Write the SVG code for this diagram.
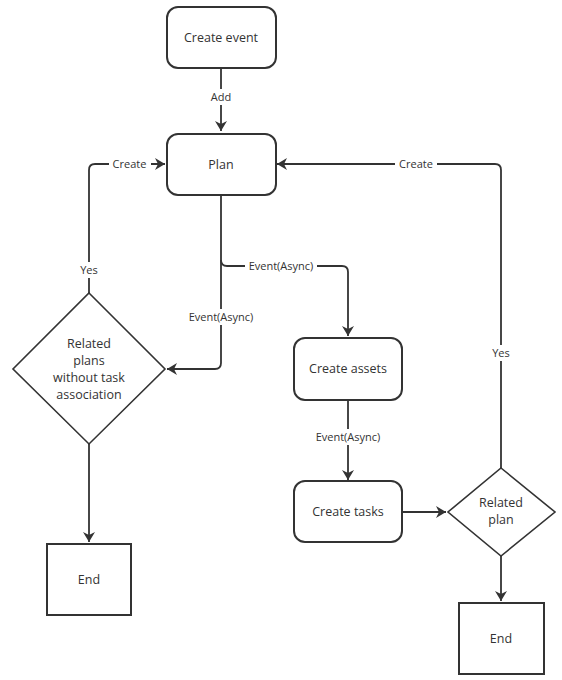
<svg xmlns="http://www.w3.org/2000/svg" width="562" height="680" viewBox="0 0 562 680">
<defs>
<marker id="arr" markerWidth="12" markerHeight="12" refX="10" refY="6" orient="auto" markerUnits="userSpaceOnUse">
<path d="M0,0 L10,6 L0,12 L3,6 Z" fill="#333"/>
</marker>
</defs>
<style>
.box{fill:#fff;stroke:#333;stroke-width:2}
.dia{fill:#fff;stroke:#333;stroke-width:1.6}
.t{font-family:"Open Sans","Liberation Sans",sans-serif;font-size:12.5px;fill:#333;text-anchor:middle}
.l{font-family:"Open Sans","Liberation Sans",sans-serif;font-size:11px;fill:#333;text-anchor:middle}
.c{fill:none;stroke:#333;stroke-width:1.8}
.lb{fill:#fff}
</style>
<rect width="562" height="680" fill="#fff"/>
<g id="connectors">
<path class="c" d="M221,68 V131" marker-end="url(#arr)"/>
<path class="c" d="M89,293 V170 Q89,164 95,164 H165" marker-end="url(#arr)"/>
<path class="c" d="M501,468 V170 Q501,164 495,164 H277" marker-end="url(#arr)"/>
<path class="c" d="M221,195 V363 Q221,369 215,369 H167" marker-end="url(#arr)"/>
<path class="c" d="M221,260 Q221,266 227,266 H342 Q348,266 348,272 V336" marker-end="url(#arr)"/>
<path class="c" d="M348,400 V480" marker-end="url(#arr)"/>
<path class="c" d="M403,512 H446" marker-end="url(#arr)"/>
<path class="c" d="M501,556 V601" marker-end="url(#arr)"/>
<path class="c" d="M89,444 V542" marker-end="url(#arr)"/>
<rect class="lb" x="208" y="89" width="26" height="16"/>
<text class="l" x="221" y="101">Add</text>
<rect class="lb" x="109" y="156" width="42" height="16"/>
<text class="l" x="129.5" y="168">Create</text>
<rect class="lb" x="395" y="156" width="42" height="16"/>
<text class="l" x="416" y="168">Create</text>
<rect class="lb" x="76" y="262" width="26" height="16"/>
<text class="l" x="89" y="274">Yes</text>
<rect class="lb" x="488" y="345" width="26" height="16"/>
<text class="l" x="501" y="357">Yes</text>
<rect class="lb" x="245" y="258" width="72" height="16"/>
<text class="l" x="281" y="270">Event(Async)</text>
<rect class="lb" x="186" y="309" width="70" height="16"/>
<text class="l" x="221" y="321">Event(Async)</text>
<rect class="lb" x="313" y="429" width="70" height="16"/>
<text class="l" x="348" y="441">Event(Async)</text>
</g>
<g id="create-event">
<rect class="box" x="167" y="7" width="109" height="61" rx="11"/>
<text class="t" x="221" y="42">Create event</text>
</g>
<g id="plan">
<rect class="box" x="167" y="134" width="109" height="61" rx="11"/>
<text class="t" x="221" y="169">Plan</text>
</g>
<g id="related-plans-decision">
<polygon class="dia" points="89,293 165,369 89,444 13,369"/>
<text class="t" x="89" y="348">Related</text>
<text class="t" x="89" y="365">plans</text>
<text class="t" x="89" y="382">without task</text>
<text class="t" x="89" y="399">association</text>
</g>
<g id="create-assets">
<rect class="box" x="294" y="338" width="108" height="62" rx="11"/>
<text class="t" x="348" y="373">Create assets</text>
</g>
<g id="create-tasks">
<rect class="box" x="294" y="481" width="108" height="61" rx="11"/>
<text class="t" x="348" y="516">Create tasks</text>
</g>
<g id="related-plan-decision">
<polygon class="dia" points="501,468 555,512 501,556 448,512"/>
<text class="t" x="501" y="507">Related</text>
<text class="t" x="501" y="524">plan</text>
</g>
<g id="end-left">
<rect class="box" x="47" y="544" width="84" height="71"/>
<text class="t" x="89" y="584">End</text>
</g>
<g id="end-right">
<rect class="box" x="459" y="603" width="85" height="71"/>
<text class="t" x="501" y="643">End</text>
</g>
</svg>
